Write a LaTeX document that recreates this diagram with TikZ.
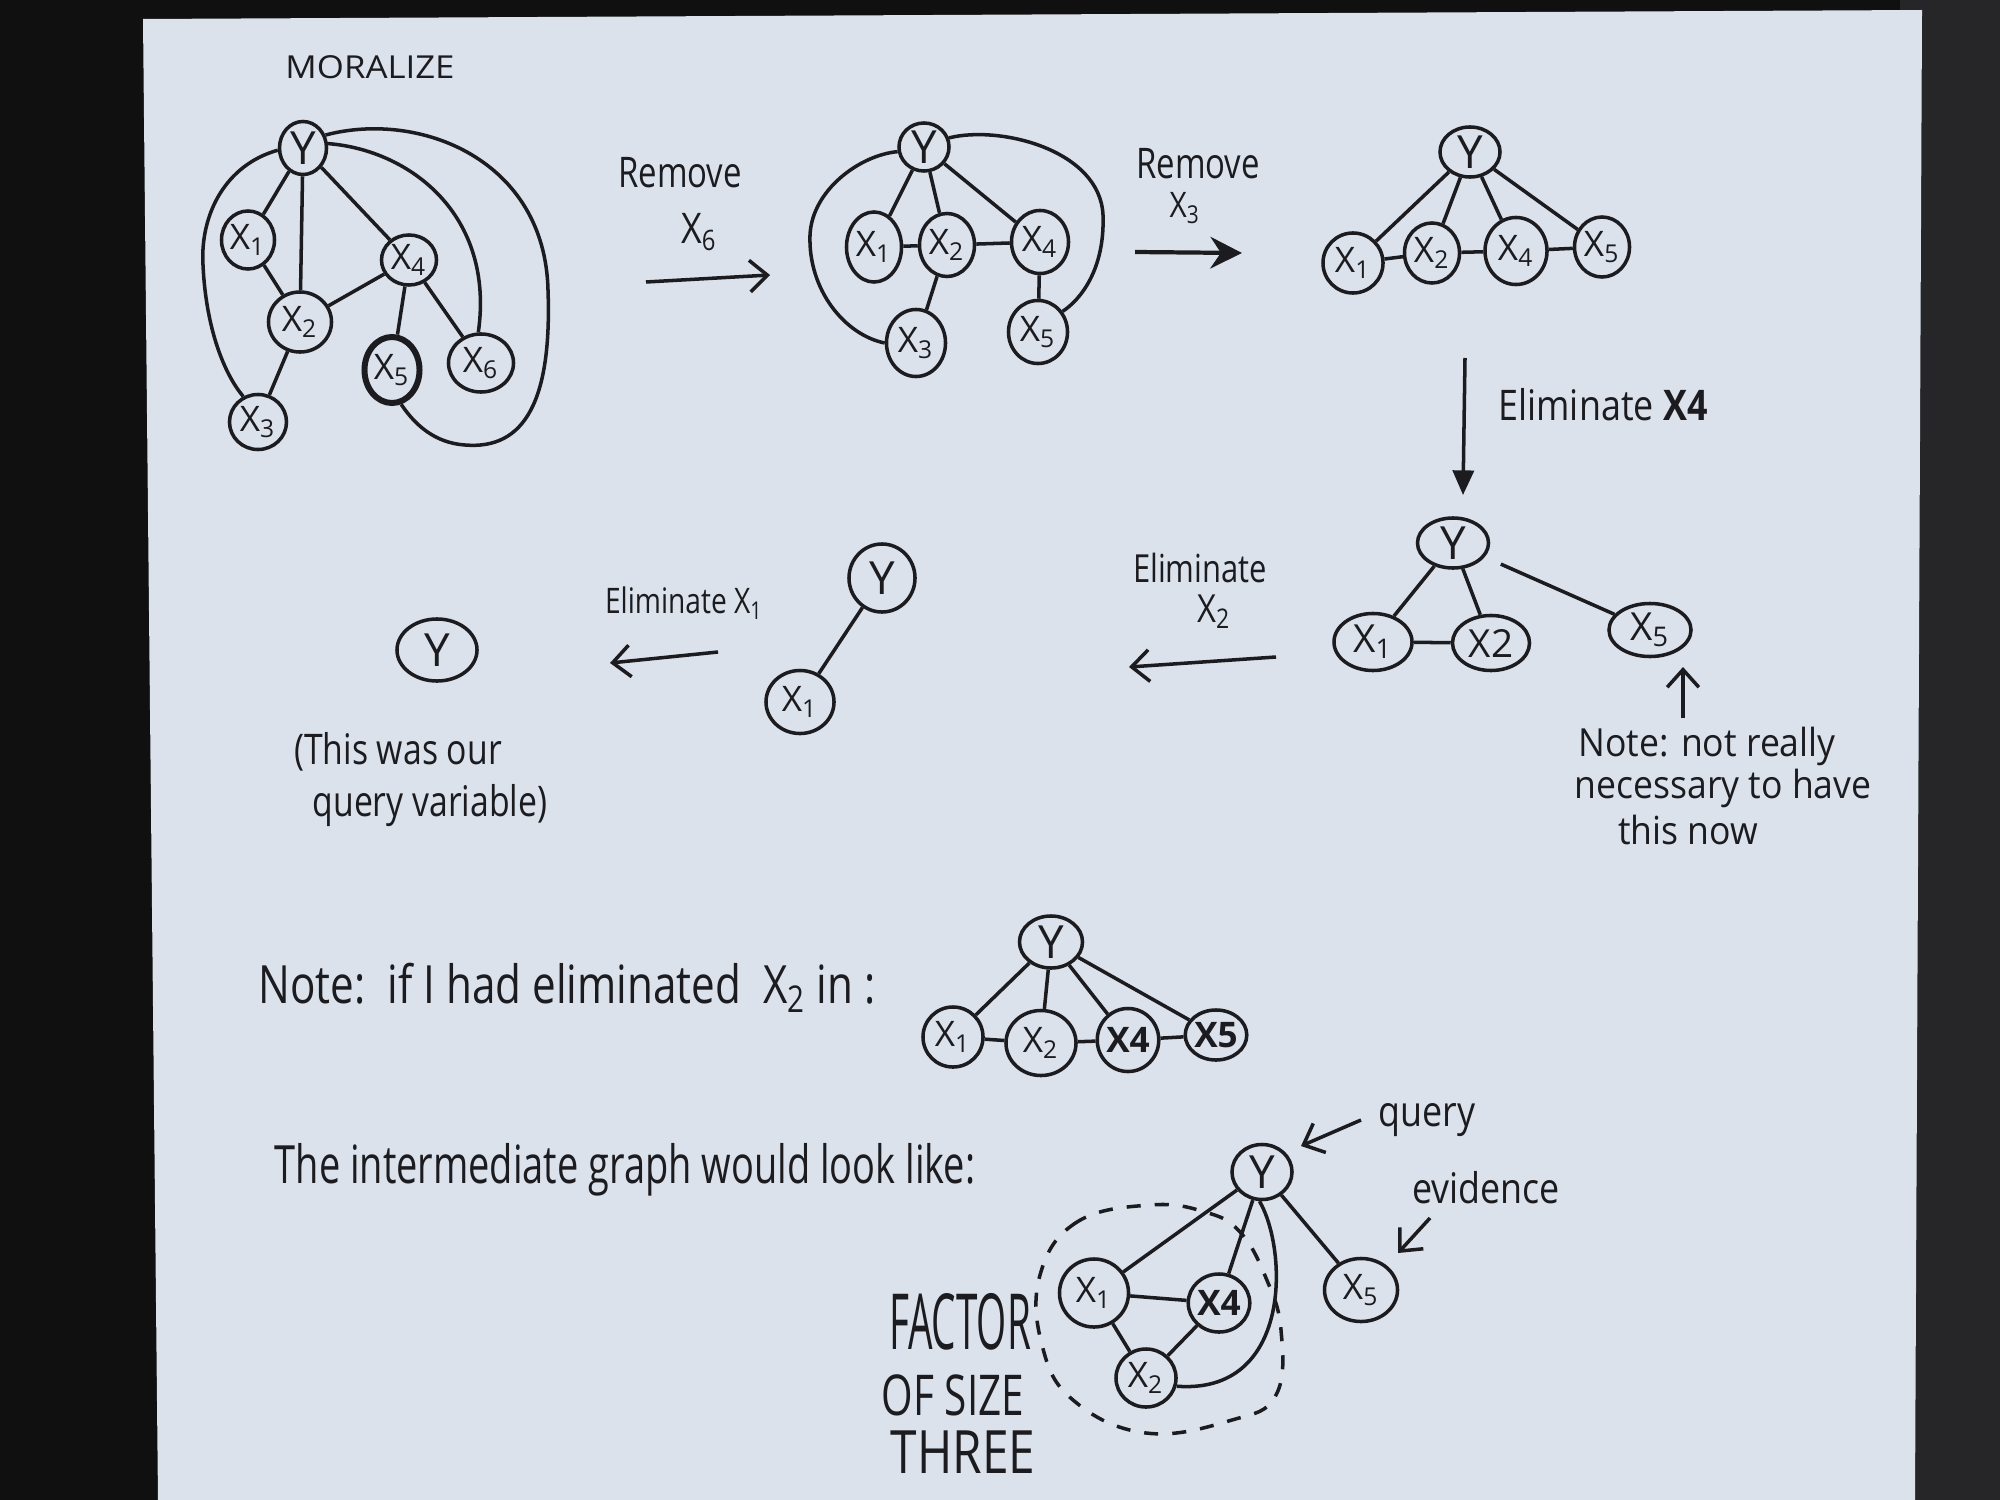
\documentclass[tikz,border=0pt]{standalone}
\usepackage{fontspec}
\setmainfont{Open Sans}
\usetikzlibrary{shapes.geometric,arrows.meta}
\definecolor{ink}{RGB}{28,28,32}
\definecolor{paper}{RGB}{219,226,235}
\definecolor{bgdark}{RGB}{16,16,16}
\definecolor{bgright}{RGB}{38,38,40}
\newcommand\xs[1]{X\textsubscript{#1}}
\begin{document}
\begin{tikzpicture}[x=0.01cm,y=-0.01cm,
  nd/.style={draw=ink, line width=1pt, ellipse, inner sep=0pt, text=ink, font=\fontsize{10}{12}\selectfont},
  yn/.style={nd, font=\fontsize{13}{14}\selectfont},
  wh/.style 2 args={minimum width=#1, minimum height=#2},
  ed/.style={draw=ink, line width=1pt},
  hw/.style={text=ink, inner sep=0pt, align=center},
  openhead/.style={-{Straight Barb[length=5pt,width=9pt]}},
  fillhead/.style={-{Triangle[length=7pt,width=6pt]}}
]
\useasboundingbox (0,0) rectangle (2000,1500);
\fill[bgdark] (0,0) rectangle (2000,1500);
\fill[bgright] (1900,0) rectangle (2000,1500);
\fill[paper] (143,19) -- (1922,10) -- (1915,1500) -- (158,1500) -- cycle;

% ---------- Graph 1: MORALIZE ----------
\node[hw, font=\fontsize{9}{10}\selectfont, xscale=1.1] (tmor) at (370,67) {MORALIZE};
\node[yn,wh={0.47cm}{0.53cm}] (g1y) at (303,148) {Y};
\node[nd,wh={0.53cm}{0.58cm}] (g1x1) at (248,240) {\xs1};
\node[nd,wh={0.55cm}{0.50cm}] (g1x4) at (409,260) {\xs4};
\node[nd,wh={0.63cm}{0.60cm}] (g1x2) at (300,322) {\xs2};
\node[nd,wh={0.55cm}{0.66cm},line width=1.7pt] (g1x5) at (392,370) {\xs5};
\node[nd,wh={0.65cm}{0.58cm}] (g1x6) at (481,363) {\xs6};
\node[nd,wh={0.57cm}{0.55cm}] (g1x3) at (258,422) {\xs3};
\draw[ed] (g1y) -- (g1x1);
\draw[ed] (g1y) -- (g1x2);
\draw[ed] (g1y) -- (g1x4);
\draw[ed] (g1x1) -- (g1x2);
\draw[ed] (g1x2) -- (g1x4);
\draw[ed] (g1x2) -- (g1x3);
\draw[ed] (g1x4) -- (g1x5);
\draw[ed] (g1x4) -- (g1x6);
\draw[ed] (g1y.10) .. controls (410,150) and (495,215) .. (g1x6.95);
\draw[ed] (g1y.30) .. controls (420,110) and (545,160) .. (548,290)
          .. controls (552,400) and (525,450) .. (465,445)
          .. controls (435,443) and (415,425) .. (g1x5.-75);
\draw[ed] (g1y.185) .. controls (225,165) and (200,215) .. (203,265)
          .. controls (206,330) and (225,375) .. (g1x3.120);

% ---------- Remove X6 ----------
\node[hw, font=\fontsize{12}{14}\selectfont, xscale=0.78] (trem1) at (680,173) {Remove};
\node[hw, font=\fontsize{12}{14}\selectfont, xscale=0.85] (trem1b) at (699,232) {\xs6};
\coordinate (a1s) at (646,282);
\coordinate (a1e) at (770,275);
\draw[ed, openhead] (a1s) -- (a1e);

% ---------- Graph 2 ----------
\node[yn,wh={0.50cm}{0.48cm}] (g2y) at (924,147) {Y};
\node[nd,wh={0.55cm}{0.70cm}] (g2x1) at (874,247) {\xs1};
\node[nd,wh={0.55cm}{0.63cm}] (g2x2) at (947,245) {\xs2};
\node[nd,wh={0.57cm}{0.63cm}] (g2x4) at (1040,242) {\xs4};
\node[nd,wh={0.59cm}{0.67cm}] (g2x3) at (916,343) {\xs3};
\node[nd,wh={0.59cm}{0.63cm}] (g2x5) at (1038,332) {\xs5};
\draw[ed] (g2y) -- (g2x1);
\draw[ed] (g2y) -- (g2x2);
\draw[ed] (g2y) -- (g2x4);
\draw[ed] (g2x1) -- (g2x2);
\draw[ed] (g2x2) -- (g2x4);
\draw[ed] (g2x2) -- (g2x3);
\draw[ed] (g2x4) -- (g2x5);
\draw[ed] (g2y.190) .. controls (860,155) and (812,190) .. (810,235)
          .. controls (808,290) and (845,335) .. (g2x3.west);
\draw[ed] (g2y.20) .. controls (1000,125) and (1100,150) .. (1103,215)
          .. controls (1105,270) and (1080,300) .. (g2x5.40);

% ---------- Remove X3 ----------
\node[hw, font=\fontsize{12}{14}\selectfont, xscale=0.78] (trem2) at (1198,164) {Remove};
\node[hw, font=\fontsize{10}{12}\selectfont, xscale=0.85] (trem2b) at (1185,208) {\xs3};
\coordinate (a2s) at (1135,252);
\coordinate (a2e) at (1242,253);
\draw[ed, line width=1.2pt, -{Stealth[length=9pt,width=9pt,inset=3pt]}] (a2s) -- (a2e);

% ---------- Graph 3 ----------
\node[yn,wh={0.60cm}{0.50cm}] (g3y) at (1470,152) {Y};
\node[nd,wh={0.60cm}{0.60cm}] (g3x1) at (1353,263) {\xs1};
\node[nd,wh={0.55cm}{0.60cm}] (g3x2) at (1432,253) {\xs2};
\node[nd,wh={0.62cm}{0.67cm}] (g3x4) at (1516,251) {\xs4};
\node[nd,wh={0.55cm}{0.60cm}] (g3x5) at (1602,247) {\xs5};
\draw[ed] (g3y) -- (g3x1);
\draw[ed] (g3y) -- (g3x2);
\draw[ed] (g3y) -- (g3x4);
\draw[ed] (g3y) -- (g3x5);
\draw[ed] (g3x1) -- (g3x2);
\draw[ed] (g3x2) -- (g3x4);
\draw[ed] (g3x4) -- (g3x5);

% ---------- Eliminate X4 ----------
\coordinate (a3s) at (1465,358);
\coordinate (a3e) at (1463,495);
\draw[ed, fillhead] (a3s) -- (a3e);
\node[hw, font=\fontsize{12}{14}\selectfont, xscale=0.85] (telim4) at (1603,405) {Eliminate \textbf{X4}};

% ---------- Graph 4 ----------
\node[yn,wh={0.71cm}{0.50cm}] (g4y) at (1453,543) {Y};
\node[nd,wh={0.78cm}{0.57cm},font=\fontsize{11}{12}\selectfont] (g4x1) at (1373,642) {\xs1};
\node[nd,wh={0.77cm}{0.55cm},font=\fontsize{11}{12}\selectfont] (g4x2) at (1491,643) {X2};
\node[nd,wh={0.82cm}{0.53cm},font=\fontsize{11}{12}\selectfont] (g4x5) at (1650,630) {\xs5};
\draw[ed] (g4y) -- (g4x1);
\draw[ed] (g4y) -- (g4x2);
\draw[ed] (g4x1) -- (g4x2);
\draw[ed, shorten <=5pt] (g4y) -- (g4x5);
\coordinate (a4s) at (1683,718);
\coordinate (a4e) at (1683,667);
\draw[ed, openhead] (a4s) -- (a4e);
\node[hw, font=\fontsize{11}{13}\selectfont, xscale=0.92] (tn1) at (1707,746) {Note: not really};
\node[hw, font=\fontsize{11}{13}\selectfont, xscale=0.92] (tn2) at (1723,788) {necessary to have};
\node[hw, font=\fontsize{11}{13}\selectfont, xscale=0.92] (tn3) at (1688,830) {this now};

% ---------- Eliminate X2 ----------
\node[hw, font=\fontsize{11}{13}\selectfont, xscale=0.8] (telim2) at (1200,568) {Eliminate};
\node[hw, font=\fontsize{11}{13}\selectfont, xscale=0.85] (telim2b) at (1214,612) {\xs2};
\coordinate (a5s) at (1276,657);
\coordinate (a5e) at (1129,667);
\draw[ed, openhead] (a5s) -- (a5e);

% ---------- Graph 5 ----------
\node[yn,wh={0.66cm}{0.68cm}] (g5y) at (882,578) {Y};
\node[nd,wh={0.68cm}{0.63cm}] (g5x1) at (800,702) {\xs1};
\draw[ed] (g5y) -- (g5x1);

% ---------- Eliminate X1 ----------
\node[hw, font=\fontsize{10}{12}\selectfont, xscale=0.8] (telim1) at (684,603) {Eliminate \xs1};
\coordinate (a6s) at (718,652);
\coordinate (a6e) at (610,663);
\draw[ed, openhead] (a6s) -- (a6e);

% ---------- Graph 6 ----------
\node[yn,wh={0.80cm}{0.62cm}] (g6y) at (437,650) {Y};
\node[hw, font=\fontsize{12}{14}\selectfont, xscale=0.8] (tq1) at (398,752) {(This was our};
\node[hw, font=\fontsize{12}{14}\selectfont, xscale=0.8] (tq2) at (430,806) {query variable)};

% ---------- Note row ----------
\node[hw, font=\fontsize{15}{17}\selectfont, xscale=0.8] (tnote) at (567,988) {Note:\ \ if I had eliminated\ \ \xs2 in :};
\node[yn,wh={0.63cm}{0.52cm}] (g7y) at (1051,942) {Y};
\node[nd,wh={0.60cm}{0.60cm}] (g7x1) at (953,1037) {\xs1};
\node[nd,wh={0.70cm}{0.65cm}] (g7x2) at (1041,1043) {\xs2};
\node[nd,wh={0.60cm}{0.63cm}] (g7x4) at (1128,1040) {\textbf{X4}};
\node[nd,wh={0.56cm}{0.50cm}] (g7x5) at (1216,1035) {\textbf{X5}};
\draw[ed] (g7y) -- (g7x1);
\draw[ed] (g7y) -- (g7x2);
\draw[ed] (g7y) -- (g7x4);
\draw[ed] (g7y) -- (g7x5);
\draw[ed] (g7x1) -- (g7x2);
\draw[ed] (g7x2) -- (g7x4);
\draw[ed] (g7x4) -- (g7x5);

% ---------- Intermediate graph ----------
\node[hw, font=\fontsize{15}{17}\selectfont, xscale=0.72] (tinter) at (625,1170) {The intermediate graph would look like:};
\node[yn,wh={0.60cm}{0.55cm}] (g8y) at (1262,1172) {Y};
\node[nd,wh={0.69cm}{0.68cm}] (g8x1) at (1094,1293) {\xs1};
\node[nd,wh={0.60cm}{0.58cm}] (g8x4) at (1219,1303) {\textbf{X4}};
\node[nd,wh={0.60cm}{0.58cm}] (g8x2) at (1146,1378) {\xs2};
\node[nd,wh={0.73cm}{0.63cm}] (g8x5) at (1361,1290) {\xs5};
\draw[ed] (g8y) -- (g8x1);
\draw[ed] (g8y) -- (g8x4);
\draw[ed] (g8y) -- (g8x5);
\draw[ed] (g8x1) -- (g8x4);
\draw[ed] (g8x1) -- (g8x2);
\draw[ed] (g8x2) -- (g8x4);
\draw[ed] (g8y.265) .. controls (1288,1250) and (1292,1395) .. (g8x2.-15);
\draw[ink, line width=1pt, dash pattern=on 4pt off 4pt] plot[smooth cycle, tension=0.7] coordinates {
  (1150,1205) (1077,1222) (1040,1275) (1042,1345) (1073,1400) (1146,1433)
  (1232,1420) (1276,1395) (1281,1330) (1266,1278) (1240,1232) (1205,1212)};
\node[hw, font=\fontsize{12}{14}\selectfont, xscale=0.85] (tquery) at (1427,1120) {query};
\coordinate (a7s) at (1361,1120);
\coordinate (a7e) at (1301,1146);
\draw[ed, openhead] (a7s) -- (a7e);
\node[hw, font=\fontsize{12}{14}\selectfont, xscale=0.85] (tevid) at (1486,1188) {evidence};
\coordinate (a8s) at (1430,1218);
\coordinate (a8e) at (1398,1253);
\draw[ed, openhead] (a8s) -- (a8e);
\node[hw, font=\fontsize{22}{24}\selectfont, xscale=0.5] (tfac1) at (960,1322) {FACTOR};
\node[hw, font=\fontsize{16}{18}\selectfont, xscale=0.72] (tfac2) at (953,1395) {OF SIZE};
\node[hw, font=\fontsize{17}{19}\selectfont, xscale=0.8] (tfac3) at (963,1452) {THREE};
\end{tikzpicture}
\end{document}
